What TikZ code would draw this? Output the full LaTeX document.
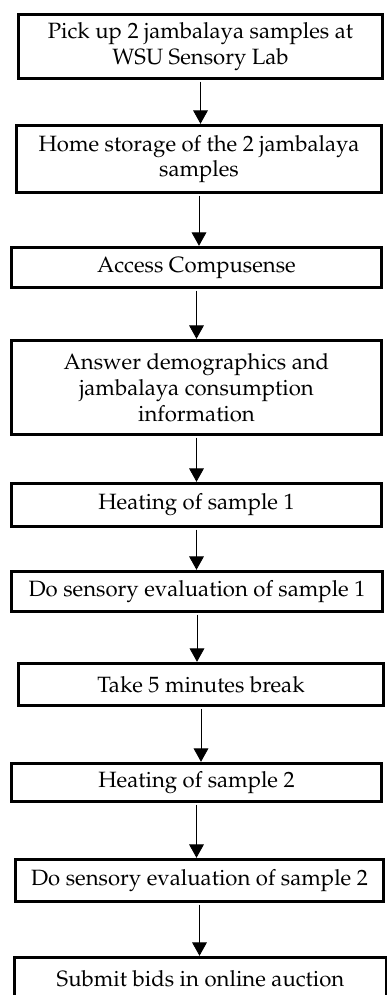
\documentclass[tikz,border=0pt]{standalone}
\usepackage[T1]{fontenc}
\usepackage{mathpazo}
\usetikzlibrary{arrows.meta}

\begin{document}
\begin{tikzpicture}[x=0.75pt, y=-0.75pt,
  stepbox/.style={draw, line width=2.6pt, align=center, inner sep=0pt,
    font=\fontsize{16.6}{19.3}\selectfont},
  sz/.style 2 args={minimum width=#1*0.75pt, minimum height=#2*0.75pt},
  flow/.style={line width=0.6pt, shorten <=1pt, -{Triangle[width=11pt,length=10pt]}}]

\useasboundingbox (0,0) rectangle (386,995);

% блоки
\node[stepbox, sz={364}{64}] (pickup) at (200.5,46.5) {Pick up 2 jambalaya samples at\\WSU Sensory Lab};
\node[stepbox, sz={365}{67}] (storage) at (199,159) {Home storage of the 2 jambalaya\\samples};
\node[stepbox, sz={370}{40}] (access) at (196.5,267.5) {Access Compusense};
\node[stepbox, sz={370}{94}] (demog) at (196.5,387.5) {Answer demographics and\\jambalaya consumption\\information};
\node[stepbox, sz={370}{43}] (heat1) at (196.5,505) {Heating of sample 1};
\node[stepbox, sz={371}{40}] (eval1) at (197,591.5) {Do sensory evaluation of sample 1};
\node[stepbox, sz={365}{42}] (pause) at (201,684.5) {Take 5 minutes break};
\node[stepbox, sz={370}{38}] (heat2) at (196.5,782.5) {Heating of sample 2};
\node[stepbox, sz={368}{42}] (eval2) at (199.5,880.5) {Do sensory evaluation of sample 2};
\node[stepbox, sz={372}{42}] (bids) at (200.5,978.5) {Submit bids in online auction};

% стрелки
\foreach \a/\b in {pickup/storage, storage/access, access/demog, demog/heat1,
  heat1/eval1, eval1/pause, pause/heat2, heat2/eval2, eval2/bids}
  \draw[flow] (\a.south) -- (\a.south |- \b.north);

\end{tikzpicture}
\end{document}
